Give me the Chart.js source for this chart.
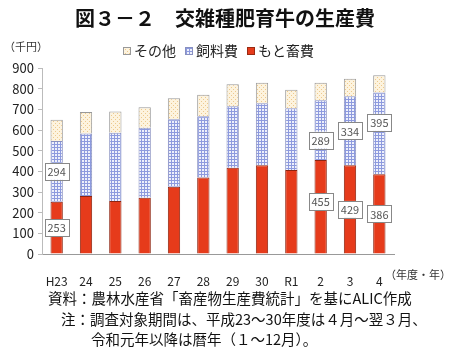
<!DOCTYPE html>
<html>
<head>
<meta charset="utf-8">
<script src="https://cdn.jsdelivr.net/npm/chart.js@4"></script>
<style>
  body { margin: 0; background: #fff; }
  #wrap { position: relative; width: 450px; height: 352px; overflow: hidden; font-family: "Noto Sans CJK JP", sans-serif; color: #111; }
  #c { position: absolute; left: 0; top: 0; }
  .t { position: absolute; white-space: nowrap; }
</style>
</head>
<body>
<div id="wrap">
  <canvas id="c" width="450" height="352"></canvas>
  <div class="t" style="left:0;width:450px;text-align:center;top:3px;font-size:20px;font-weight:bold;">図３－２　交雑種肥育牛の生産費</div>
  <div class="t" style="left:4px;top:38px;font-size:11px;color:#333;">（千円）</div>
  <div class="t" style="left:385px;top:266px;font-size:11px;color:#333;">（年度・年）</div>
  <div class="t" style="left:48px;top:287px;font-size:14.5px;">資料：農林水産省「畜産物生産費統計」を基にALIC作成</div>
  <div class="t" style="left:61px;top:308px;font-size:14.5px;">注：調査対象期間は、平成23～30年度は４月～翌３月、</div>
  <div class="t" style="left:91px;top:328px;font-size:14.5px;">令和元年以降は暦年（１～12月）。</div>
</div>
<script>
var years = ['H23', '24', '25', '26', '27', '28', '29', '30', 'R1', '2', '3', '4'];

var motoData = [253, 281, 257, 272, 325, 370, 417, 430, 406, 455, 429, 386];
var feedData = [294, 302, 330, 339, 327, 297, 298, 299, 299, 289, 334, 395];
var otherData = [102, 104, 102, 99, 102, 103, 106, 100, 90, 85, 85, 84];

// bars that carry value boxes in the original
var labelledYears = ['H23', '2', '3', '4'];

function makePattern(size, bg, draw) {
    var p = document.createElement('canvas');
    p.width = size; p.height = size;
    var g = p.getContext('2d');
    g.fillStyle = bg;
    g.fillRect(0, 0, size, size);
    draw(g);
    return document.getElementById('c').getContext('2d').createPattern(p, 'repeat');
}

var feedPattern = makePattern(3, '#eef0fb', function (g) {
    g.fillStyle = '#8d9ade';
    g.fillRect(0, 0, 3, 1);
    g.fillRect(0, 0, 1, 3);
});
var otherPattern = makePattern(4, '#fdf3de', function (g) {
    g.fillStyle = '#ecc98e';
    g.fillRect(1, 1, 1, 1);
    g.fillRect(3, 3, 1, 1);
});

var legendItems = [
    { text: 'その他', fill: otherPattern, border: '#999' },
    { text: '飼料費', fill: feedPattern, border: '#8890c0' },
    { text: 'もと畜費', fill: '#e63b1b', border: '#9a2a12' }
];

var boxLegend = {
    id: 'boxLegend',
    afterDraw: function (chart) {
        var ctx = chart.ctx;
        ctx.save();
        ctx.font = '14px "Noto Sans CJK JP"';
        ctx.textBaseline = 'middle';
        var x = 123, y = 51;
        legendItems.forEach(function (it) {
            ctx.fillStyle = it.fill;
            ctx.fillRect(x, y - 4, 8, 8);
            ctx.strokeStyle = it.border;
            ctx.lineWidth = 1;
            ctx.strokeRect(x + 0.5, y - 3.5, 7, 7);
            ctx.fillStyle = '#222';
            ctx.fillText(it.text, x + 11, y);
            x += 11 + ctx.measureText(it.text).width + 9;
        });
        ctx.restore();
    }
};

// shift of some value boxes, as placed by hand in the original
var boxShift = { '2': [-5, 10], '4': [0, -11] };

var valueBoxes = {
    id: 'valueBoxes',
    afterDatasetsDraw: function (chart) {
        var ctx = chart.ctx;
        ctx.save();
        ctx.font = '11px "Noto Sans CJK JP"';
        ctx.textAlign = 'center';
        ctx.textBaseline = 'middle';
        labelledYears.forEach(function (yr) {
            var i = years.indexOf(yr);
            [0, 1].forEach(function (d) {
                var el = chart.getDatasetMeta(d).data[i];
                var v = chart.data.datasets[d].data[i];
                var cy = (el.y + el.base) / 2 + ((boxShift[yr] || [0, 0])[d]);
                var txt = String(v);
                var w = ctx.measureText(txt).width + 6;
                var h = 17;
                ctx.fillStyle = '#fff';
                ctx.fillRect(el.x - w / 2, cy - h / 2, w, h);
                ctx.strokeStyle = '#888';
                ctx.lineWidth = 1;
                ctx.strokeRect(Math.round(el.x - w / 2) + 0.5, Math.round(cy - h / 2) + 0.5, Math.round(w), h);
                ctx.fillStyle = '#555';
                ctx.fillText(txt, el.x, cy + 0.5);
            });
        });
        ctx.restore();
    }
};

var chart = new Chart(document.getElementById('c'), {
    type: 'bar',
    data: {
        labels: years,
        datasets: [
            { label: 'もと畜費', data: motoData, backgroundColor: '#e63b1b', borderColor: '#8e2410', borderWidth: 1 },
            { label: '飼料費', data: feedData, backgroundColor: feedPattern, borderColor: '#8890c0', borderWidth: 1 },
            { label: 'その他', data: otherData, backgroundColor: otherPattern, borderColor: '#999', borderWidth: 1 }
        ]
    },
    options: {
        responsive: false,
        animation: false,
        layout: { padding: { left: 0, top: 68, right: 56, bottom: 0 } },
        datasets: { bar: { categoryPercentage: 1, barPercentage: 0.42 } },
        plugins: {
            legend: { display: false },
            tooltip: { enabled: false }
        },
        scales: {
            x: {
                stacked: true,
                afterFit: function (s) { s.height = 98; },
                border: { color: '#999' },
                grid: { display: false },
                ticks: { color: '#222', padding: 12, font: { family: 'Noto Sans CJK JP', size: 12 } }
            },
            y: {
                stacked: true,
                min: 0,
                max: 900,
                afterFit: function (s) { s.width = 42; },
                border: { color: '#bbb' },
                grid: { drawOnChartArea: false, tickLength: 4, color: '#bbb' },
                ticks: { stepSize: 100, color: '#222', padding: 4, font: { family: 'Noto Sans CJK JP', size: 13 } }
            }
        }
    },
    plugins: [boxLegend, valueBoxes]
});
</script>
</body>
</html>
